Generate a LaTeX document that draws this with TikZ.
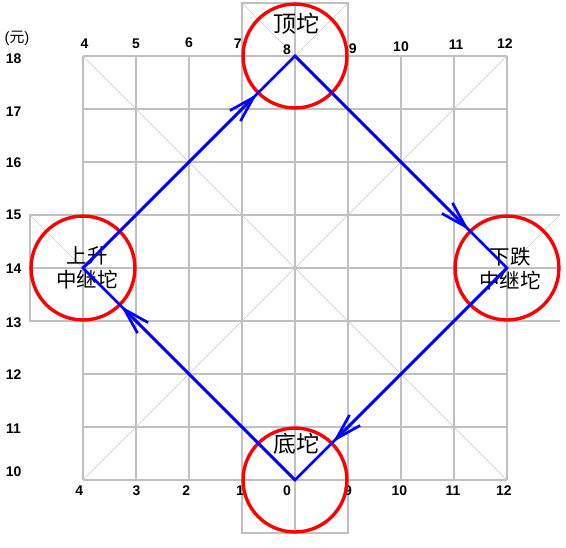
\documentclass[tikz,border=0pt]{standalone}
\usepackage{fontspec}
\setmainfont{Liberation Sans}
\newfontfamily\cjk{Noto Sans CJK SC}
\usetikzlibrary{arrows.meta}
\definecolor{gridgray}{RGB}{192,192,192}

\begin{document}
\begin{tikzpicture}[
          grid/.style={draw=gridgray, line width=0.7pt},
          diag/.style={draw=gridgray!85, line width=0.35pt},
          pit/.style={circle, draw=red, line width=1.8pt,
                      minimum size=1.96cm, inner sep=0pt},
          trend/.style={blue, line width=1.45pt},
          arr/.style={trend, -{Straight Barb[length=14pt, width=8pt]}},
          num/.style={font=\fontsize{7.5}{9}\selectfont\bfseries, inner sep=0pt},
          lbl/.style={font=\cjk\fontsize{11}{12.8}\selectfont, align=center,
                      inner sep=0pt},
          big/.style={lbl, font=\cjk\fontsize{12.3}{13}\selectfont}
        ]
          \useasboundingbox (-1.566,-1.264) rectangle (9.113,9.057);
          % grid
          \foreach \i in {0,...,8} {
            \draw[grid] (\i,0) -- (\i,8);
            \draw[grid] (0,\i) -- (8,\i);
          }
          \draw[diag] (0,8) -- (8,0) (0,0) -- (8,8);
          % grid pieces round the pits
          \draw[grid] (3,8) -- (3,9) -- (5,9) -- (5,8) (4,8) -- (4,9);
          \draw[diag] (3,9) -- (4,8) -- (5,9);
          \draw[grid] (0,5) -- (-1,5) -- (-1,3) -- (0,3) (0,4) -- (-1,4);
          \draw[diag] (-1,5) -- (0,4);
          \draw[grid] (8,5) -- (9,5) (8,3) -- (9,3) (8,4) -- (9,4);
          \draw[diag] (8,4) -- (9,5);
          \draw[grid] (3,0) -- (3,-1) -- (5,-1) -- (5,0) (4,0) -- (4,-1);

          % axis labels
          \node[num, font=\fontsize{8}{9}\selectfont] (unit) at (-1.245,8.34) {({\cjk 元})};
          \foreach \y/\v in {7.94/18, 6.94/17, 5.98/16, 5.0/15, 3.98/14,
                             2.96/13, 1.98/12, 0.96/11, 0.15/10}
            \node[num] (p\v) at (-1.31,\y) {\v};
          \foreach \x/\y/\v in {0.03/8.23/4, 1.0/8.23/5, 2.0/8.25/6, 2.92/8.23/7,
                                3.85/8.11/8, 5.09/8.13/9, 6.0/8.17/10,
                                7.04/8.21/11, 7.96/8.23/12}
            \node[num] (t\v) at (\x,\y) {\v};
          \foreach \x/\v in {-0.07/4, 1.01/3, 1.95/2, 2.96/1, 3.85/0,
                             5.0/9, 5.97/10, 6.98/11, 7.94/12}
            \node[num] (b\v) at (\x,-0.2) {\v};

          % pits
          \node[pit] (T) at (4,8) {};
          \node[pit] (L) at (0,4) {};
          \node[pit] (R) at (8,4) {};
          \node[pit] (B) at (4,0) {};
          \node[big] (Tt) at (4.02,8.6)  {顶坨};
          \node[big] (Bt) at (4.02,0.68) {底坨};
          \node[lbl] (Lt) at (0.08,4.0)  {上升\\中继坨};
          \node[lbl] (Rt) at (8.06,3.98) {下跌\\中继坨};

          % trend
          \draw[trend, line join=miter] (L.center) -- (T.center) -- (R.center)
            -- (B.center) -- cycle;
          \draw[arr] (L.center) -- (T);
          \draw[arr] (T.center) -- (R);
          \draw[arr] (R.center) -- (B);
          \draw[arr] (B.center) -- (L);
        \end{tikzpicture}
\end{document}
